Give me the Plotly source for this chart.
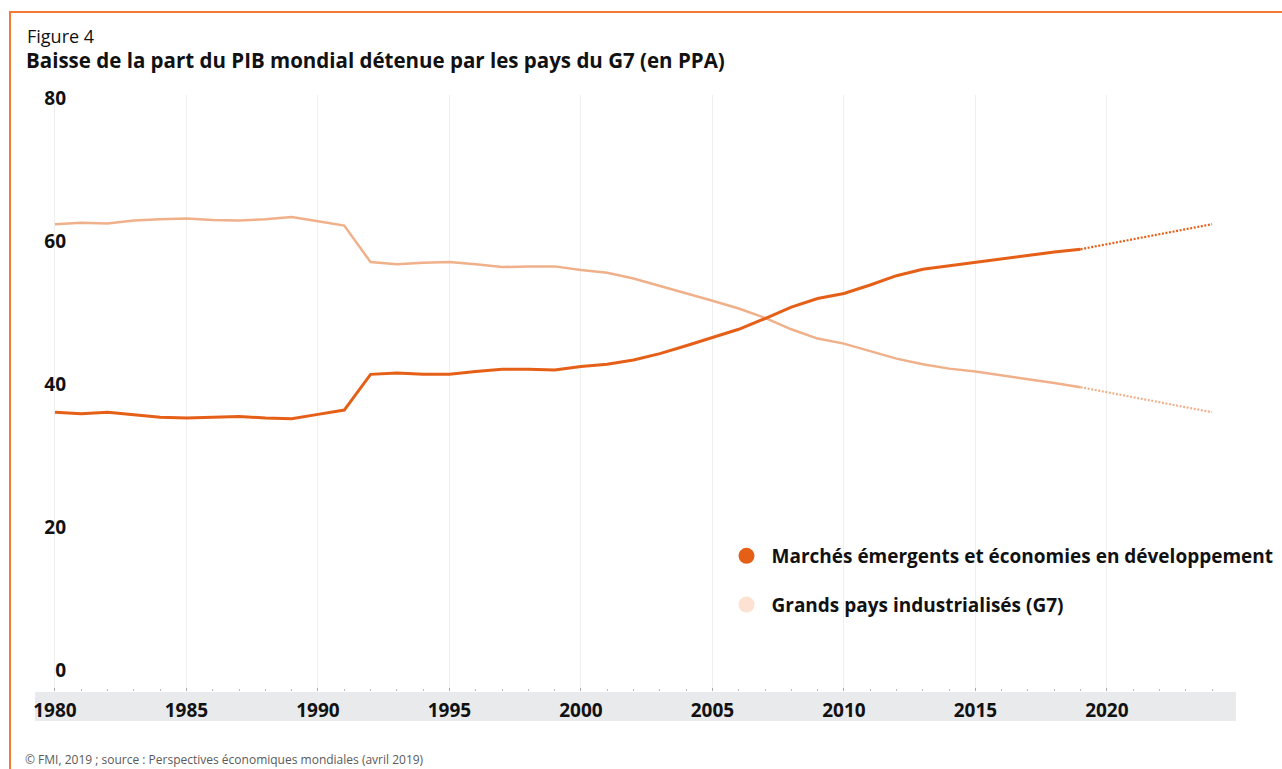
import plotly.graph_objects as go

years = list(range(1980, 2020))
em_share = [37.1, 36.9, 37.1, 36.7, 36.4, 36.3, 36.4, 36.5, 36.3, 36.2,
            36.8, 37.4, 42.4, 42.6, 42.4, 42.4, 42.8, 43.1, 43.1, 43.0,
            43.5, 43.8, 44.4, 45.3, 46.4, 47.6, 48.7, 50.2, 51.8, 53.0,
            53.7, 54.9, 56.2, 57.1, 57.6, 58.0, 58.6, 59.0, 59.5, 59.9]
g7_share = [63.4, 63.6, 63.5, 63.9, 64.1, 64.2, 64.0, 63.9, 64.1, 64.4,
            63.8, 63.2, 58.1, 57.8, 58.0, 58.1, 57.8, 57.4, 57.5, 57.5,
            57.0, 56.6, 55.8, 54.8, 53.7, 52.7, 51.6, 50.3, 48.7, 47.4,
            46.7, 45.6, 44.6, 43.8, 43.2, 42.8, 42.2, 41.7, 41.2, 40.6]
proj_years = [2019, 2024]
em_proj = [59.9, 63.4]
g7_proj = [40.6, 37.1]

y_ticks = [0, 20, 40, 60, 80]
x_ticks = [1980, 1985, 1990, 1995, 2000, 2005, 2010, 2015, 2020]

name_em = "Marchés émergents et économies en développement"
name_g7 = "Grands pays industrialisés (G7)"

C_EM = "#e55f17"
C_G7 = "#f0b08a"
C_G7_LEG = "#fde1d1"
FONT = "Open Sans"

fig = go.Figure()
fig.add_trace(go.Scatter(x=years, y=g7_share, mode="lines",
                         line=dict(color=C_G7, width=2.5), showlegend=False, hoverinfo="skip"))
fig.add_trace(go.Scatter(x=proj_years, y=g7_proj, mode="lines",
                         line=dict(color=C_G7, width=2.2, dash="2px,1.6px"), showlegend=False, hoverinfo="skip"))
fig.add_trace(go.Scatter(x=years, y=em_share, mode="lines",
                         line=dict(color=C_EM, width=3), showlegend=False, hoverinfo="skip"))
fig.add_trace(go.Scatter(x=proj_years, y=em_proj, mode="lines",
                         line=dict(color=C_EM, width=2.2, dash="2px,1.6px"), showlegend=False, hoverinfo="skip"))
# legend entries
fig.add_trace(go.Scatter(x=[None], y=[None], mode="markers", name=name_em, legendgroup="a",
                         marker=dict(color=C_EM, size=20)))
fig.add_trace(go.Scatter(x=[None], y=[None], mode="markers", name=name_g7, legendgroup="b",
                         marker=dict(color=C_G7_LEG, size=20)))

H_TOP, H_BOT = 95, 691
PH = H_BOT - H_TOP
def py(px):
    return (H_BOT - px) / PH
def pxx(px):
    return (px - 35) / 1201

fig.update_layout(
    width=1282, height=769, autosize=False,
    margin=dict(l=35, r=46, t=H_TOP, b=769 - H_BOT, autoexpand=False),
    paper_bgcolor="white", plot_bgcolor="white",
    font=dict(family=FONT, color="#111111"),
    xaxis=dict(range=[1979.24, 2024.91], tickvals=x_ticks, showgrid=True,
               gridcolor="#efefef", gridwidth=1, zeroline=False, showline=False,
               ticks="inside", ticklen=3, tickcolor="#aaaaaa",
               minor=dict(dtick=1, tick0=1980, ticks="inside", ticklen=2, tickcolor="#bbbbbb", showgrid=False),
               tickfont=dict(family=FONT, size=19, color="#111111", weight="bold"),
               ticklabelstandoff=6, fixedrange=True),
    yaxis=dict(range=[-1.89, 81.47], tickvals=y_ticks, showgrid=False, zeroline=False,
               showline=False, ticks="",
               tickfont=dict(family=FONT, size=19, color="#111111", weight="bold"),
               ticklabelposition="outside", ticklabelstandoff=-32, ticklabelshift=-7,
               fixedrange=True),
    legend=dict(x=pxx(721.5), y=py(537), xanchor="left", yanchor="top",
                font=dict(family=FONT, size=19, color="#111111", weight="bold"),
                tracegroupgap=21, itemwidth=40, bgcolor="rgba(0,0,0,0)", itemsizing="trace"),
    shapes=[
        dict(type="rect", xref="paper", yref="paper", x0=0, x1=1, y0=py(721), y1=py(692),
             fillcolor="#e9eaec", line=dict(width=0), layer="below"),
        dict(type="rect", xref="paper", yref="paper", x0=pxx(10), x1=1.06, y0=-0.2, y1=py(12),
             fillcolor="rgba(0,0,0,0)", line=dict(color="#f27a36", width=2), layer="above"),
    ],
    annotations=[
        dict(text="Figure 4", xref="paper", yref="paper", x=pxx(25), y=py(36),
             xanchor="left", yanchor="middle", showarrow=False,
             font=dict(family=FONT, size=18, color="#111111")),
        dict(text="<b>Baisse de la part du PIB mondial détenue par les pays du G7 (en PPA)</b>",
             xref="paper", yref="paper", x=pxx(24), y=py(60),
             xanchor="left", yanchor="middle", showarrow=False,
             font=dict(family=FONT, size=20.5, color="#111111")),
        dict(text="© FMI, 2019 ; source : Perspectives économiques mondiales (avril 2019)",
             xref="paper", yref="paper", x=pxx(23), y=py(759),
             xanchor="left", yanchor="middle", showarrow=False,
             font=dict(family=FONT, size=12, color="#5a5a5a")),
    ],
)

fig.write_html("out.html",
               config={"displayModeBar": False, "responsive": False},
               post_script="document.body.style.margin='0';")
